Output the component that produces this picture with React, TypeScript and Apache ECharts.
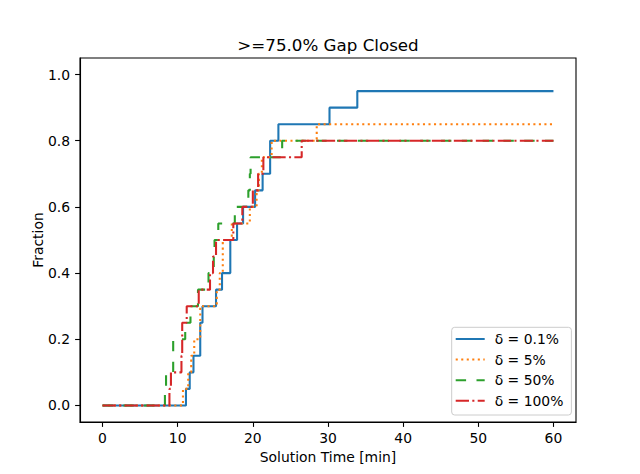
import React, { useEffect, useRef } from "react";
import * as echarts from "echarts";

const xTicks = [0, 10, 20, 30, 40, 50, 60];
const yTicks = [0, 0.2, 0.4, 0.6, 0.8, 1.0];
const seriesNames = ["δ = 0.1%", "δ = 5%", "δ = 50%", "δ = 100%"];
const titleText = ">=75.0% Gap Closed";
const xName = "Solution Time [min]";
const yName = "Fraction";
const timeLimit = 60;

// time (min) at which each step occurs, and the fraction reached at that time
const blueTimes = [11.1, 11.6, 12.1, 13.0, 13.0, 13.3, 15.1, 15.9, 17.0, 17.0, 17.9, 18.7, 20.3, 21.3, 22.3, 22.3, 23.4, 30.2, 33.9];
const blueFractions = [0.05, 0.1, 0.15, 0.2, 0.25, 0.3, 0.35, 0.4, 0.45, 0.5, 0.55, 0.6, 0.65, 0.7, 0.75, 0.8, 0.85, 0.9, 0.95];

const orangeTimes = [10.7, 11.4, 11.8, 12.2, 13.0, 13.0, 15.2, 15.6, 16.0, 16.0, 17.2, 19.6, 20.5, 20.8, 21.2, 22.5, 28.5];
const orangeFractions = [0.05, 0.1, 0.15, 0.2, 0.25, 0.3, 0.35, 0.4, 0.45, 0.5, 0.55, 0.6, 0.65, 0.7, 0.75, 0.8, 0.85];

const greenTimes = [8.3, 8.45, 9.4, 9.4, 11.0, 11.7, 12.7, 14.1, 14.8, 14.9, 15.4, 17.6, 19.4, 19.6, 19.7, 23.9];
const greenFractions = [0.05, 0.1, 0.15, 0.2, 0.25, 0.3, 0.35, 0.4, 0.45, 0.5, 0.55, 0.6, 0.65, 0.7, 0.75, 0.8];

const redTimes = [8.9, 9.1, 10.5, 10.6, 10.6, 11.2, 12.8, 14.3, 14.7, 15.1, 17.4, 18.6, 20.0, 20.7, 21.4, 26.5];
const redFractions = [0.05, 0.1, 0.15, 0.2, 0.25, 0.3, 0.35, 0.4, 0.45, 0.5, 0.55, 0.6, 0.65, 0.7, 0.75, 0.8];

const FONT = "DejaVu Sans";

function buildSteps(times: number[], fracs: number[]) {
  const pts: number[][] = [[0, 0]];
  for (let i = 0; i < times.length; i++) pts.push([times[i], fracs[i]]);
  pts.push([timeLimit, fracs[fracs.length - 1]]);
  return pts;
}

export default function App() {
  const ref = useRef<HTMLDivElement>(null);
  useEffect(() => {
    document.body.style.margin = "0";
    const chart = echarts.init(ref.current!, null, { renderer: "svg" });
    const lw = 2.08;
    const mk = (name: string, color: string, data: number[][], type: any, z: number) => ({
      name,
      type: "line",
      step: "end",
      data,
      symbol: "none",
      showSymbol: false,
      clip: false,
      z,
      lineStyle: { color, width: lw, type, cap: "butt" },
      itemStyle: { color },
      emphasis: { disabled: true },
    });
    chart.setOption({
      animation: false,
      backgroundColor: "#ffffff",
      textStyle: { fontFamily: FONT },
      title: {
        text: titleText,
        left: 328,
        textAlign: "center",
        top: 36,
        padding: 0,
        textStyle: { fontFamily: FONT, fontSize: 16.7, fontWeight: "normal", color: "#000" },
      },
      grid: {
        left: 80,
        right: 64,
        top: 58,
        bottom: 52,
        show: true,
        borderColor: "#000",
        borderWidth: 1.1,
        backgroundColor: "transparent",
      },
      legend: {
        orient: "vertical",
        left: 451.7,
        top: 327.3,
        itemWidth: 29,
        itemHeight: 14,
        itemGap: 4.6,
        padding: [3.7, 8, 6.2, 3],
        backgroundColor: "rgba(255,255,255,0.8)",
        borderColor: "#cccccc",
        borderWidth: 1,
        borderRadius: 3,
        itemStyle: { opacity: 0, borderWidth: 0 },
        textStyle: { fontFamily: FONT, fontSize: 13.9, color: "#000", lineHeight: 16, padding: [0, 0, 0, 5] },
        data: seriesNames,
      },
      xAxis: {
        type: "value",
        min: -3,
        max: 63,
        name: xName,
        nameLocation: "middle",
        nameGap: 28,
        nameMoveOverlap: false,
        nameTextStyle: { fontFamily: FONT, fontSize: 13.9, color: "#000" },
        axisLine: { show: true, onZero: false, lineStyle: { color: "#000", width: 1.1 } },
        axisTick: { show: true, length: 4.9, lineStyle: { color: "#000", width: 1.1 }, customValues: xTicks },
        axisLabel: {
          fontFamily: FONT,
          fontSize: 13.9,
          color: "#000",
          margin: 9,
          customValues: xTicks,
          formatter: (v: number) => String(Math.round(v)),
        },
        splitLine: { show: false },
      },
      yAxis: {
        type: "value",
        min: -0.05,
        max: 1.05,
        name: yName,
        nameLocation: "middle",
        nameGap: 35,
        nameRotate: 90,
        nameMoveOverlap: false,
        nameTextStyle: { fontFamily: FONT, fontSize: 13.9, color: "#000" },
        axisLine: { show: true, onZero: false, lineStyle: { color: "#000", width: 1.1 } },
        axisTick: { show: true, length: 4.9, lineStyle: { color: "#000", width: 1.1 }, customValues: yTicks },
        axisLabel: {
          fontFamily: FONT,
          fontSize: 13.9,
          color: "#000",
          margin: 10,
          customValues: yTicks,
          formatter: (v: number) => v.toFixed(1),
        },
        splitLine: { show: false },
      },
      series: [
        mk(seriesNames[0], "#1f77b4", buildSteps(blueTimes, blueFractions), "solid", 2),
        mk(seriesNames[1], "#ff7f0e", buildSteps(orangeTimes, orangeFractions), [2.08, 3.44], 3),
        mk(seriesNames[2], "#2ca02c", buildSteps(greenTimes, greenFractions), [10.4, 10.4], 4),
        mk(seriesNames[3], "#d62728", buildSteps(redTimes, redFractions), [13.3, 3.3, 2.1, 3.3], 5),
      ],
    });
    return () => chart.dispose();
  }, []);
  return <div ref={ref} style={{ width: 640, height: 474 }} />;
}
